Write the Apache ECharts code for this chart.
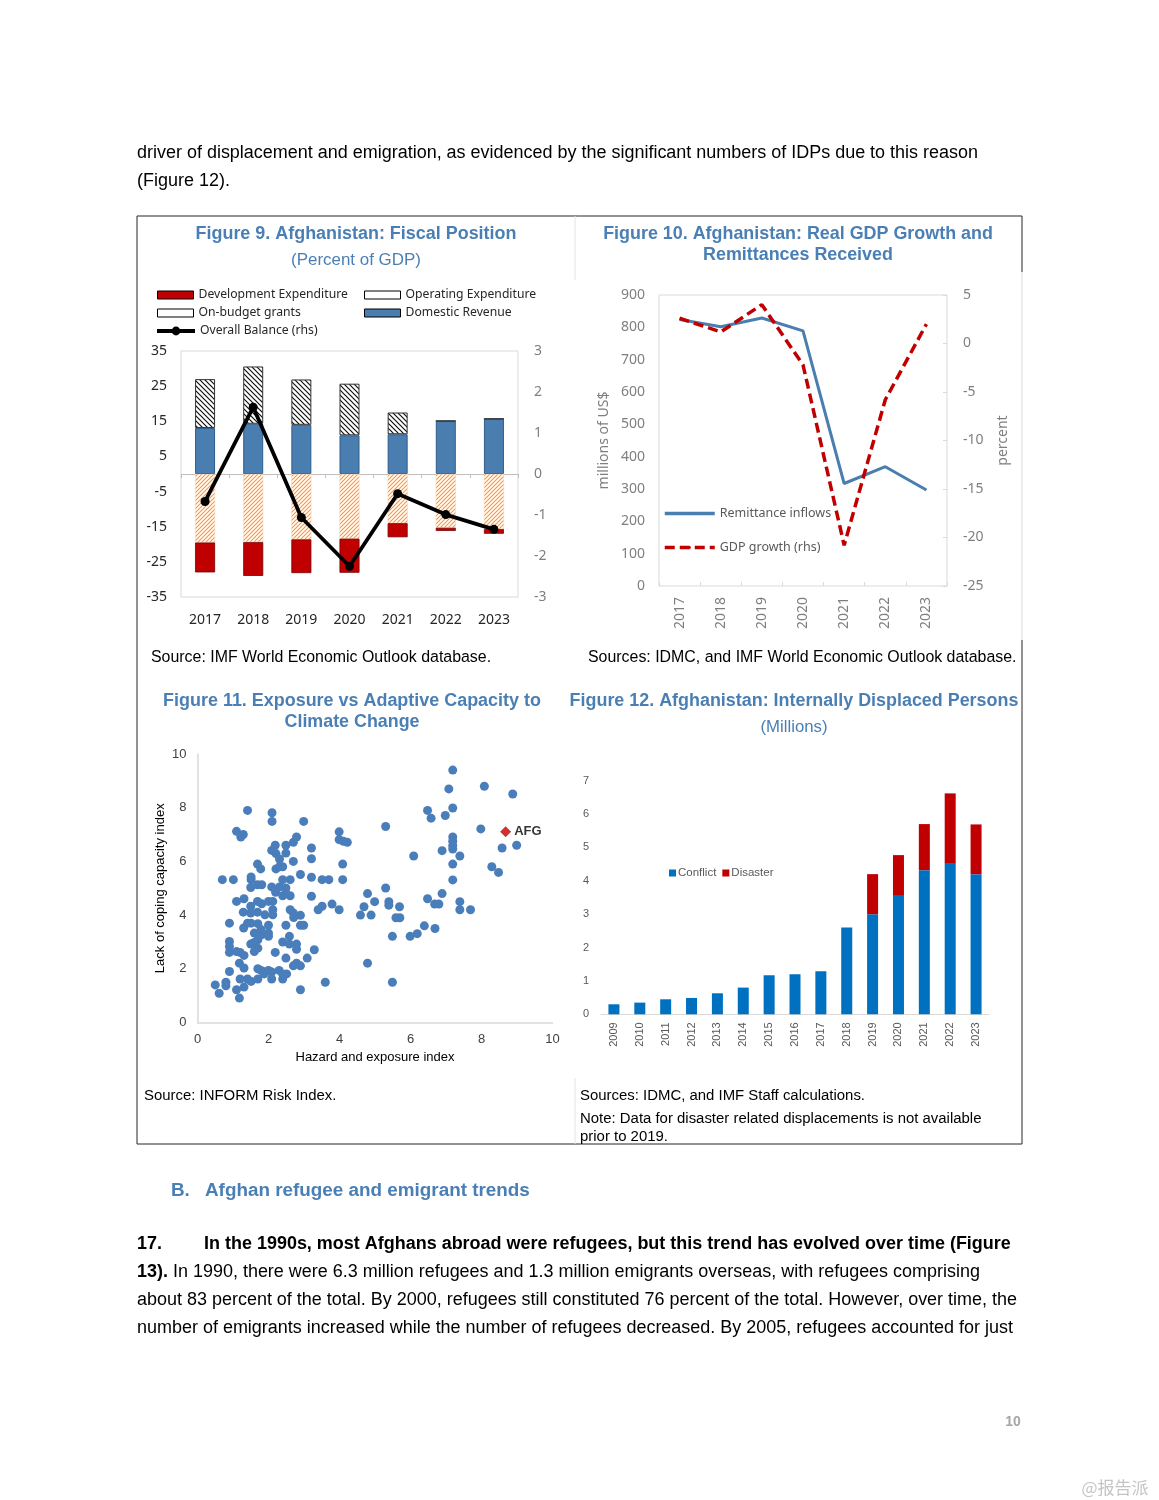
<!DOCTYPE html>
<html><head><meta charset="utf-8">
<script src="https://cdn.jsdelivr.net/npm/echarts@6/dist/echarts.min.js"></script>
<style>html,body{margin:0;padding:0;background:#fff}#c{width:1159px;height:1500px}</style>
</head><body><div id="c"></div>
<script>
// ---------- DATA ----------
const fig9Years = ['2017','2018','2019','2020','2021','2022','2023'];
const domesticRevenue = [13.1, 14.3, 14.0, 11.0, 11.3, 15.1, 15.7];
const onBudgetGrants = [13.9, 16.3, 12.9, 14.7, 6.2, 0, 0];
const operatingExpenditure = [-19.5, -19.4, -18.6, -18.4, -14.0, -15.3, -15.7];
const developmentExpenditure = [-8.5, -9.6, -9.6, -9.7, -4.0, -0.9, -1.3];
const overallBalance = [-0.67, 1.63, -1.06, -2.25, -0.48, -0.99, -1.35];

const fig10Years = ['2017','2018','2019','2020','2021','2022','2023'];
const remittanceInflows = [824, 802, 829, 789, 317, 369, 297];
const gdpGrowth = [2.6, 1.2, 4.0, -2.2, -20.8, -5.8, 2.0];

const hazardCoping = [
[1.41,7.90],[2.10,7.81],[2.10,7.49],[2.99,7.49],[1.10,7.12],[1.22,6.91],[1.29,7.00],[3.99,7.10],[3.99,6.81],[4.11,6.75],[4.22,6.71],[2.79,6.91],[2.70,6.71],[2.49,6.60],[2.19,6.60],[2.09,6.41],[2.21,6.29],[2.31,6.09],[2.49,6.31],[3.21,6.50],[3.21,6.10],[2.70,6.00],[4.09,5.90],[1.69,5.90],[1.78,5.72],[2.21,5.72],[2.31,5.80],[2.40,5.80],[0.70,5.32],[1.01,5.32],[1.51,5.42],[1.51,5.32],[1.50,5.03],[1.69,5.13],[1.81,5.13],[2.40,5.32],[2.61,5.32],[2.90,5.51],[3.21,5.41],[3.51,5.32],[3.70,5.32],[4.09,5.32],[2.09,5.05],[2.20,4.85],[2.31,5.05],[2.49,5.01],[2.40,4.72],[2.61,4.72],[2.49,4.82],[1.10,4.51],[1.31,4.61],[1.50,4.33],[1.69,4.51],[1.81,4.42],[2.00,4.51],[2.12,4.51],[3.21,4.70],[3.79,4.41],[3.51,4.33],[3.40,4.20],[3.99,4.20],[1.29,4.11],[1.50,4.08],[1.69,4.11],[1.90,4.01],[2.12,4.20],[2.12,4.01],[2.61,4.20],[2.70,4.08],[2.71,3.91],[2.90,3.99],[0.90,3.70],[1.41,3.70],[1.30,3.52],[1.51,3.70],[1.70,3.68],[1.79,3.46],[2.00,3.62],[2.49,3.62],[2.90,3.62],[2.99,3.62],[1.60,3.33],[1.80,3.27],[2.00,3.33],[2.00,3.21],[2.59,3.21],[0.90,3.02],[0.90,2.83],[0.90,2.61],[1.50,2.92],[1.60,2.98],[1.70,3.08],[2.40,3.00],[2.59,2.92],[2.79,2.92],[2.79,2.73],[1.60,2.64],[1.70,2.77],[1.10,2.64],[1.20,2.61],[1.31,2.50],[2.19,2.61],[3.29,2.71],[2.49,2.40],[3.09,2.40],[1.18,2.21],[1.31,2.03],[0.90,1.90],[2.70,2.11],[2.79,2.21],[2.90,2.11],[1.70,2.00],[1.79,1.94],[1.90,1.88],[2.00,1.94],[2.09,1.88],[2.30,1.94],[2.40,1.81],[2.51,1.81],[1.88,1.81],[2.09,1.62],[2.40,1.62],[1.70,1.62],[1.20,1.62],[1.41,1.62],[1.51,1.53],[1.31,1.32],[1.10,1.22],[0.80,1.50],[0.80,1.37],[0.50,1.40],[0.61,1.09],[1.18,0.91],[2.90,1.22],[3.60,1.50],
[7.19,9.40],[8.08,8.80],[8.88,8.51],[7.08,8.70],[7.19,7.99],[6.48,7.90],[6.58,7.61],[6.98,7.71],[5.30,7.30],[7.98,7.21],[7.19,6.91],[7.19,6.75],[7.19,6.59],[7.19,6.46],[6.89,6.40],[7.39,6.20],[6.09,6.20],[8.58,6.50],[8.99,6.60],[7.19,5.90],[8.29,5.80],[8.48,5.59],[7.19,5.31],[5.30,5.01],[4.79,4.80],[6.89,4.80],[4.99,4.50],[4.69,4.31],[5.39,4.50],[5.39,4.37],[5.69,4.31],[6.48,4.61],[6.68,4.41],[6.80,4.41],[7.39,4.50],[7.39,4.20],[7.69,4.20],[4.59,4.00],[4.89,4.00],[5.59,3.90],[5.70,3.90],[6.39,3.60],[6.69,3.50],[6.19,3.31],[5.99,3.21],[5.49,3.21],[4.79,2.21],[5.49,1.50]
];
const afgPoint = [[8.68, 7.1]];

const fig12Years = ['2009','2010','2011','2012','2013','2014','2015','2016','2017','2018','2019','2020','2021','2022','2023'];
const conflictIDPs = [0.30,0.35,0.45,0.49,0.63,0.80,1.17,1.20,1.29,2.60,3.00,3.55,4.32,4.51,4.20];
const disasterIDPs = ['-','-','-','-','-','-','-','-','-','-',1.20,1.22,1.38,2.11,1.49];

// ---------- HELPERS ----------
const FB = '"Liberation Sans", Arial, sans-serif';
const FN = '"Noto Sans", sans-serif';
const BLUE_T = '#4a7fb5';
const mc = document.createElement('canvas').getContext('2d');
function fit(text, weight, family, target){ mc.font = weight + ' 100px ' + family; return 100 * target / mc.measureText(text).width; }
function T(text, x, y, o){
  o = o || {};
  return {type:'text', x:x, y:y, silent:true, z:10, style:{
    text:text, fill:o.color||'#000', fontSize:o.size||15, fontFamily:o.family||FB,
    fontWeight:o.weight||'normal', align:o.align||'left', verticalAlign:'middle', rich:o.rich
  }};
}
function L(x1,y1,x2,y2,c){ return {type:'line', silent:true, shape:{x1:x1,y1:y1,x2:x2,y2:y2}, style:{stroke:c||'#333', lineWidth:1}}; }
function hatch(color, dir, s, w){
  const c=document.createElement('canvas'); c.width=s; c.height=s;
  const g=c.getContext('2d'); g.fillStyle='#fff'; g.fillRect(0,0,s,s);
  g.strokeStyle=color; g.lineWidth=w; g.beginPath();
  if(dir==='/'){ g.moveTo(-1,s+1); g.lineTo(s+1,-1); g.moveTo(-1,1); g.lineTo(1,-1); g.moveTo(s-1,s+1); g.lineTo(s+1,s-1); }
  else { g.moveTo(-1,-1); g.lineTo(s+1,s+1); g.moveTo(s-1,-1); g.lineTo(s+1,1); g.moveTo(-1,s-1); g.lineTo(1,s+1); }
  g.stroke(); return c;
}

// ---------- TEXT ----------
const intro1 = 'driver of displacement and emigration, as evidenced by the significant numbers of IDPs due to this reason';
const p3 = 'about 83 percent of the total. By 2000, refugees still constituted 76 percent of the total. However, over time, the';
const bs = (fit(intro1,'normal',FB,841) + fit(p3,'normal',FB,882)) / 2;
const srcS = (fit('Source: IMF World Economic Outlook database.','normal',FB,344) + fit('Sources: IDMC, and IMF World Economic Outlook database.','normal',FB,424)) / 2;
const srcB = (fit('Note: Data for disaster related displacements is not available','normal',FB,407) + fit('Source: INFORM Risk Index.','normal',FB,190)) / 2;

function title(text, cx, y, w, weight){ return T(text, cx, y, {size:fit(text,weight,FB,w), weight:weight, color:BLUE_T, align:'center'}); }
const bSize = fit('Afghan refugee and emigrant trends','bold',FB,325);

const graphics = [
  T(intro1, 137, 153, {size:bs}),
  T('(Figure 12).', 137, 181, {size:bs}),
  // box
  L(137,216,1022,216,'#262626'), L(137,216,137,1144,'#262626'), L(137,1144,1022,1144,'#262626'),
  L(1022,216,1022,272,'#262626'), L(1022,272,1022,640,'#d9d9d9'), L(1022,640,1022,1144,'#262626'),
  L(575,216,575,280,'#e3e3e3'), L(575,1078,575,1144,'#e3e3e3'),
  title('Figure 9. Afghanistan: Fiscal Position', 356, 234, 321, 'bold'),
  title('(Percent of GDP)', 356, 260, 130, 'normal'),
  title('Figure 10. Afghanistan: Real GDP Growth and', 798, 234, 390, 'bold'),
  title('Remittances Received', 798, 255, 190, 'bold'),
  title('Figure 11. Exposure vs Adaptive Capacity to', 352, 701, 378, 'bold'),
  title('Climate Change', 352, 722, 135, 'bold'),
  title('Figure 12. Afghanistan: Internally Displaced Persons', 794, 701, 449, 'bold'),
  title('(Millions)', 794, 727, 67, 'normal'),
  T('Source: IMF World Economic Outlook database.', 151, 658, {size:srcS}),
  T('Sources: IDMC, and IMF World Economic Outlook database.', 588, 658, {size:srcS}),
  T('Source: INFORM Risk Index.', 144, 1096, {size:srcB}),
  T('Sources: IDMC, and IMF Staff calculations.', 580, 1096, {size:srcB}),
  T('Note: Data for disaster related displacements is not available', 580, 1119, {size:srcB}),
  T('prior to 2019.', 580, 1137, {size:srcB}),
  T('B.', 171, 1191, {size:bSize, weight:'bold', color:BLUE_T}),
  T('Afghan refugee and emigrant trends', 205, 1191, {size:bSize, weight:'bold', color:BLUE_T}),
  T('17.', 137, 1244, {size:bs, weight:'bold'}),
  T('In the 1990s, most Afghans abroad were refugees, but this trend has evolved over time (Figure', 204, 1244, {size:bs, weight:'bold'}),
  T('{b|13).} In 1990, there were 6.3 million refugees and 1.3 million emigrants overseas, with refugees comprising', 137, 1272, {size:bs, rich:{b:{fontWeight:'bold', fontSize:bs, fontFamily:FB, fill:'#000'}}}),
  T(p3, 137, 1300, {size:bs}),
  T('number of emigrants increased while the number of refugees decreased. By 2005, refugees accounted for just', 137, 1328, {size:bs}),
  T('10', 1013, 1422, {size:14, weight:'bold', color:'#a6a6a6', align:'center'}),
  T('@报告派', 1115, 1488, {size:17, family:'"Noto Sans CJK SC", sans-serif', color:'#c4c4c4', align:'center'})
];

// ---------- CHART ----------
const chart = echarts.init(document.getElementById('c'));
const lgText9 = {fontSize:12.2, color:'#262626', fontFamily:FN};
const lgText10 = {fontSize:12.5, color:'#595959', fontFamily:FN};
function lg(name, left, top, extra, ts){
  return Object.assign({data:[name], left:left, top:top, padding:0, itemGap:0, selectedMode:false, textStyle:ts||lgText9}, extra||{});
}
const option = {
  animation:false,
  backgroundColor:'#fff',
  textStyle:{fontFamily:FB},
  graphic:graphics,
  grid:[
    {left:181, top:351, width:337, height:246, show:true, borderColor:'#d9d9d9', borderWidth:1},
    {left:659, top:295, width:288, height:291, show:true, borderColor:'#d9d9d9', borderWidth:1},
    {left:197.5, top:754, width:355, height:268.5},
    {left:601, top:780.7, width:388, height:233.6}
  ],
  legend:[
    lg({name:'Development Expenditure', itemStyle:{color:'#c00000', borderColor:'#000', borderWidth:1}}, 157, 289, {itemWidth:36, itemHeight:8, icon:'rect'}),
    lg({name:'Operating Expenditure', itemStyle:{color:'#fff', borderColor:'#000', borderWidth:1}}, 364, 289, {itemWidth:36, itemHeight:8, icon:'rect'}),
    lg({name:'On-budget grants', itemStyle:{color:'#fff', borderColor:'#000', borderWidth:1}}, 157, 307, {itemWidth:36, itemHeight:8, icon:'rect'}),
    lg({name:'Domestic Revenue', itemStyle:{color:'#4a7eb0', borderColor:'#000', borderWidth:1}}, 364, 307, {itemWidth:36, itemHeight:8, icon:'rect'}),
    lg('Overall Balance (rhs)', 155, 325, {itemWidth:38, itemHeight:11, lineStyle:{width:4}}),
    lg('Remittance inflows', 663, 507, {itemWidth:50, itemHeight:3, lineStyle:{width:3.5}}, lgText10),
    lg('GDP growth (rhs)', 663, 541, {itemWidth:50, itemHeight:3, lineStyle:{width:3.5}}, lgText10),
    {data:['Conflict','Disaster'], left:669, top:867, padding:0, itemGap:6, itemWidth:7, itemHeight:7, icon:'rect', selectedMode:false,
     textStyle:{fontSize:11.5, color:'#595959', fontFamily:FB, padding:[0,0,0,-3]}}
  ],
  xAxis:[
    {gridIndex:0, type:'category', data:fig9Years, position:'bottom', axisLine:{show:false, onZero:false}, axisTick:{show:false},
     axisLabel:{margin:16, fontSize:14, color:'#262626', fontFamily:FN}},
    {gridIndex:0, type:'category', data:fig9Years, position:'bottom', axisLine:{show:true, onZero:true, lineStyle:{color:'#bfbfbf'}},
     axisTick:{show:true, length:4, lineStyle:{color:'#bfbfbf'}}, axisLabel:{show:false}},
    {gridIndex:1, type:'category', data:fig10Years, axisLine:{show:false, onZero:false}, axisTick:{show:true, inside:true, length:4, lineStyle:{color:'#d9d9d9'}},
     axisLabel:{rotate:90, margin:11, fontSize:14, color:'#7f7f7f', fontFamily:FN}},
    {gridIndex:2, type:'value', min:0, max:10, interval:2, axisLine:{show:true, onZero:false, lineStyle:{color:'#d9d9d9', width:1.5}}, axisTick:{show:false}, splitLine:{show:false},
     axisLabel:{margin:10, fontSize:13, color:'#404040', fontFamily:FB},
     name:'Hazard and exposure index', nameLocation:'middle', nameGap:28, nameTextStyle:{fontSize:13, color:'#000', fontFamily:FB}},
    {gridIndex:3, type:'category', data:fig12Years, axisLine:{show:true, lineStyle:{color:'#d9d9d9'}}, axisTick:{show:false},
     axisLabel:{rotate:90, margin:8, fontSize:11, color:'#595959', fontFamily:FB}}
  ],
  yAxis:[
    {gridIndex:0, type:'value', min:-35, max:35, interval:10, splitLine:{show:false}, axisLine:{show:false}, axisTick:{show:false},
     axisLabel:{margin:14, fontSize:14, color:'#262626', fontFamily:FN}},
    {gridIndex:0, type:'value', position:'right', min:-3, max:3, interval:1, splitLine:{show:false}, axisLine:{show:false}, axisTick:{show:false},
     axisLabel:{margin:16, fontSize:14, color:'#7f7f7f', fontFamily:FN}},
    {gridIndex:1, type:'value', min:0, max:900, interval:100, splitLine:{show:false}, axisLine:{show:false}, axisTick:{show:false},
     axisLabel:{margin:14, fontSize:14, color:'#7f7f7f', fontFamily:FN},
     name:'millions of US$', nameLocation:'middle', nameGap:48, nameRotate:90, nameTextStyle:{fontSize:14, color:'#7f7f7f', fontFamily:FN}},
    {gridIndex:1, type:'value', position:'right', min:-25, max:5, interval:5, splitLine:{show:false}, axisLine:{show:false},
     axisTick:{show:true, inside:true, length:4, lineStyle:{color:'#d9d9d9'}},
     axisLabel:{margin:16, fontSize:14, color:'#7f7f7f', fontFamily:FN},
     name:'percent', nameLocation:'middle', nameGap:49, nameRotate:90, nameTextStyle:{fontSize:14, color:'#7f7f7f', fontFamily:FN}},
    {gridIndex:2, type:'value', min:0, max:10, interval:2, splitLine:{show:false}, axisLine:{show:true, onZero:false, lineStyle:{color:'#d9d9d9', width:1.5}}, axisTick:{show:false},
     axisLabel:{margin:11, fontSize:13, color:'#404040', fontFamily:FB},
     name:'Lack of coping capacity index', nameLocation:'middle', nameGap:31, nameRotate:90, nameTextStyle:{fontSize:13, color:'#000', fontFamily:FB}},
    {gridIndex:3, type:'value', min:0, max:7, interval:1, splitLine:{show:false}, axisLine:{show:false}, axisTick:{show:false},
     axisLabel:{margin:12, fontSize:11, color:'#595959', fontFamily:FB}}
  ],
  series:[
    {name:'Domestic Revenue', type:'bar', xAxisIndex:0, yAxisIndex:0, stack:'f9', barWidth:20, data:domesticRevenue,
     itemStyle:{color:'#4a7eb0', borderColor:'#2f5d8a', borderWidth:1}},
    {name:'On-budget grants', type:'bar', xAxisIndex:0, yAxisIndex:0, stack:'f9', barWidth:20, data:onBudgetGrants,
     itemStyle:{color:{image:hatch('#111','\\',5,1.2), repeat:'repeat'}, borderColor:'#333', borderWidth:1}},
    {name:'Operating Expenditure', type:'bar', xAxisIndex:0, yAxisIndex:0, stack:'f9', barWidth:20, data:operatingExpenditure,
     itemStyle:{color:{image:hatch('#f7963c','/',4,1.1), repeat:'repeat'}, borderColor:'#fbd3b0', borderWidth:0.5}},
    {name:'Development Expenditure', type:'bar', xAxisIndex:0, yAxisIndex:0, stack:'f9', barWidth:20, data:developmentExpenditure,
     itemStyle:{color:'#c00000', borderColor:'#7a0000', borderWidth:0.8}},
    {name:'Overall Balance (rhs)', type:'line', xAxisIndex:0, yAxisIndex:1, data:overallBalance, z:5,
     symbol:'circle', symbolSize:9, itemStyle:{color:'#000'}, lineStyle:{color:'#000', width:3.8}},
    {name:'Remittance inflows', type:'line', xAxisIndex:2, yAxisIndex:2, data:remittanceInflows, symbol:'none',
     itemStyle:{color:'#4a7eb0'}, lineStyle:{color:'#4a7eb0', width:3}},
    {name:'GDP growth (rhs)', type:'line', xAxisIndex:2, yAxisIndex:3, data:gdpGrowth, symbol:'none',
     itemStyle:{color:'#c00000'}, lineStyle:{color:'#c00000', width:3.5, type:[10,5]}},
    {name:'Countries', type:'scatter', xAxisIndex:3, yAxisIndex:4, data:hazardCoping, symbolSize:9,
     itemStyle:{color:'#4a7ebb', opacity:1}},
    {name:'AFG', type:'scatter', xAxisIndex:3, yAxisIndex:4, data:afgPoint, symbol:'diamond', symbolSize:11, z:6,
     itemStyle:{color:'#c00000'},
     label:{show:true, position:'right', distance:3, formatter:'AFG', fontWeight:'bold', fontSize:13, color:'#000', fontFamily:FB}},
    {name:'Conflict', type:'bar', xAxisIndex:4, yAxisIndex:5, stack:'f12', barWidth:11, data:conflictIDPs, itemStyle:{color:'#0070c0'}},
    {name:'Disaster', type:'bar', xAxisIndex:4, yAxisIndex:5, stack:'f12', barWidth:11, data:disasterIDPs, itemStyle:{color:'#c00000'}}
  ]
};
chart.setOption(option);
</script>
</body></html>
